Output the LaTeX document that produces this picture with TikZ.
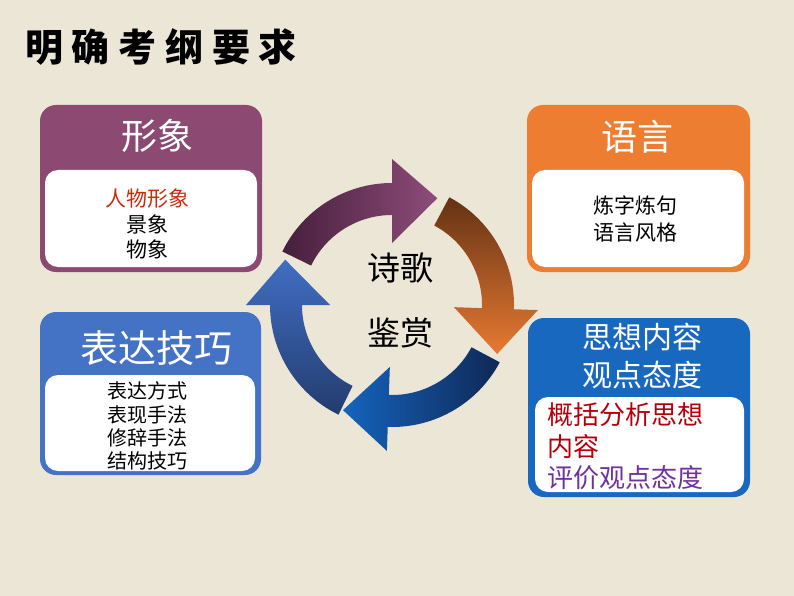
\documentclass[tikz,border=0pt]{standalone}
\usepackage{fontspec}
\setmainfont{Noto Sans CJK SC}
\newfontfamily\titlefont[LetterSpace=23]{Noto Sans CJK SC}
\definecolor{bg}{RGB}{236,230,214}
\definecolor{cpurple}{RGB}{140,74,114}
\definecolor{corange}{RGB}{237,125,49}
\definecolor{cblueA}{RGB}{68,114,196}
\definecolor{cblueB}{RGB}{25,104,192}
\definecolor{cred}{RGB}{200,45,10}
\definecolor{cdred}{RGB}{180,0,10}
\definecolor{cviolet}{RGB}{112,48,160}
\definecolor{apurD}{RGB}{70,30,60}
\definecolor{apurL}{RGB}{142,76,122}
\definecolor{aoraD}{RGB}{100,50,20}
\definecolor{aoraL}{RGB}{232,122,50}
\definecolor{ablu1D}{RGB}{15,40,85}
\definecolor{ablu1L}{RGB}{20,100,190}
\definecolor{ablu2D}{RGB}{35,60,110}
\definecolor{ablu2L}{RGB}{65,110,195}
\newcommand{\cycarrow}[2]{%
  \pgfmathsetmacro{\cyB}{#1-64}\pgfmathsetmacro{\cyP}{#1-87}%
  \shade[#2] (#1:122pt) arc[start angle=#1, end angle=\cyB, radius=122pt]
    -- (\cyB:146pt) -- (\cyP:116pt) -- (\cyB:62pt) -- (\cyB:90pt)
    arc[start angle=\cyB, end angle=#1, radius=90pt] -- cycle;}
\begin{document}
\begin{tikzpicture}[x=1pt,y=1pt,
  outerbox/.style={rounded corners=16pt, inner sep=0pt},
  innerbox/.style={fill=white, rounded corners=13pt, inner sep=0pt},
  headtxt/.style={text=white, inner sep=0pt, align=center},
  itemtxt/.style={text=black, inner sep=0pt, align=center}]
\fill[bg] (0,0) rectangle (794,-596);
\useasboundingbox (0,0) rectangle (794,-596);

\node[anchor=west, inner sep=0pt, font=\titlefont\bfseries\fontsize{38}{42}\selectfont] (title) at (25,-47) {明确考纲要求};

% box 1
\node[outerbox, fill=cpurple, minimum width=222pt, minimum height=167pt] (b1) at (151,-188.5) {};
\node[innerbox, minimum width=212pt, minimum height=97pt] (w1) at (151,-218.5) {};
\node[headtxt, font=\fontsize{36}{40}\selectfont] (t1) at (157,-136) {形象};
\node[itemtxt, font=\fontsize{21}{25.5}\selectfont] (i1) at (147,-224) {{\color{cred}人物形象}\\景象\\物象};

% box 2
\node[outerbox, fill=corange, minimum width=223pt, minimum height=167pt] (b2) at (638.5,-188.5) {};
\node[innerbox, minimum width=212pt, minimum height=97pt] (w2) at (638,-218.5) {};
\node[headtxt, font=\fontsize{36}{40}\selectfont] (t2) at (637,-137) {语言};
\node[itemtxt, font=\fontsize{21}{27}\selectfont] (i2) at (635,-218.5) {炼字炼句\\语言风格};

% box 3
\node[outerbox, fill=cblueA, minimum width=221pt, minimum height=163pt] (b3) at (150.5,-393.5) {};
\node[innerbox, minimum width=210pt, minimum height=96pt] (w3) at (150,-423) {};
\node[headtxt, font=\fontsize{38}{42}\selectfont] (t3) at (156,-348) {表达技巧};
\node[itemtxt, font=\fontsize{20}{23.3}\selectfont] (i3) at (147.5,-426) {表达方式\\表现手法\\修辞手法\\结构技巧};

% box 4
\node[outerbox, fill=cblueB, minimum width=222pt, minimum height=179pt] (b4) at (639,-407.5) {};
\node[innerbox, minimum width=209pt, minimum height=95pt] (w4) at (639.5,-444.5) {};
\node[headtxt, font=\fontsize{30}{38}\selectfont] (t4) at (642,-356) {思想内容\\观点态度};
\node[anchor=west, inner sep=0pt, align=left, text=cdred, font=\fontsize{26}{32}\selectfont] (i4a) at (547,-431) {概括分析思想\\内容};
\node[anchor=west, inner sep=0pt, text=cviolet, font=\fontsize{26}{30}\selectfont] (i4b) at (547,-478) {评价观点态度};

% cycle arrows
\begin{scope}[shift={(392,-305)}]
\cycarrow{154}{left color=apurD, right color=apurL}
\cycarrow{62}{top color=aoraD, bottom color=aoraL}
\cycarrow{-28}{right color=ablu1D, left color=ablu1L}
\cycarrow{-116}{bottom color=ablu2D, top color=ablu2L}
\end{scope}

\node[inner sep=0pt, align=center, font=\fontsize{33}{65}\selectfont] (center) at (400,-300.5) {诗歌\\鉴赏};
\end{tikzpicture}
\end{document}
